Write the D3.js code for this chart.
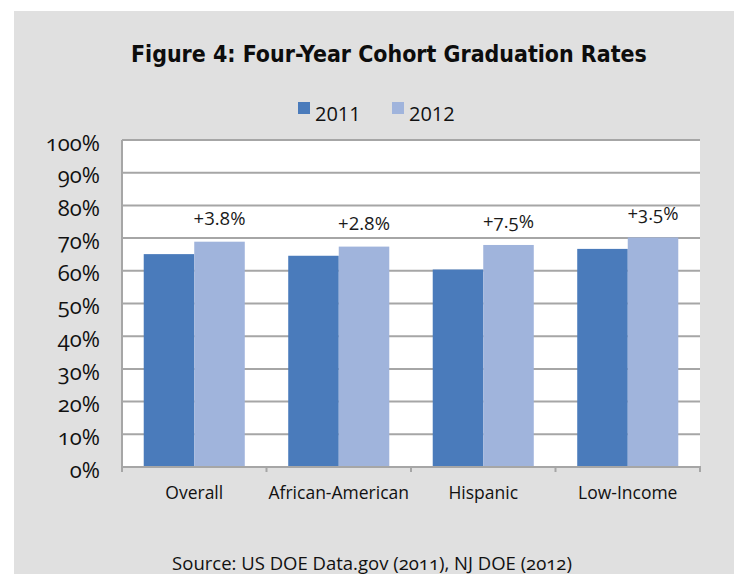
<!DOCTYPE html>
<html>
<head>
<meta charset="utf-8">
<script src="https://cdn.jsdelivr.net/npm/d3@7"></script>
<style>
  html, body { margin: 0; padding: 0; background: #ffffff; }
  svg { display: block; }
  .num { font-variant-numeric: oldstyle-nums; font-feature-settings: "onum" 1; }
</style>
</head>
<body>
<svg id="chart" width="734" height="574"></svg>
<script>
// Graduation rates by group, 2011 vs 2012 (percent)
const categories = ["Overall", "African-American", "Hispanic", "Low-Income"];
const years = ["2011", "2012"];
const rates2011 = [65.1, 64.6, 60.4, 66.7];
const rates2012 = [68.9, 67.4, 67.9, 70.2];
const changeLabels = ["+3.8%", "+2.8%", "+7.5%", "+3.5%"];
const oldstyleChange = [false, false, true, true];
const yTicks = [0, 10, 20, 30, 40, 50, 60, 70, 80, 90, 100];

const colors = { "2011": "#4a7bbb", "2012": "#a0b4dc" };
const labelFont = "'Open Sans', Lato, 'Liberation Sans', sans-serif";

const svg = d3.select("#chart");

// grey panel
svg.append("rect")
  .attr("x", 14).attr("y", 11)
  .attr("width", 734 - 14).attr("height", 574 - 11)
  .attr("fill", "#e0e0e0");

const plot = { left: 122, right: 700, top: 140, bottom: 467 };

const x0 = d3.scaleBand().domain(categories).range([plot.left, plot.right]).paddingInner(0).paddingOuter(0);
const x1 = d3.scaleBand().domain(years).range([0, x0.bandwidth()]).paddingInner(0).paddingOuter(0.43);
const y = d3.scaleLinear().domain([0, 100]).range([plot.bottom, plot.top]);

// white plot area
svg.append("rect")
  .attr("x", plot.left).attr("y", plot.top)
  .attr("width", plot.right - plot.left).attr("height", plot.bottom - plot.top)
  .attr("fill", "#ffffff");

// gridlines
svg.append("g")
  .selectAll("line")
  .data(yTicks.filter(t => t > 0))
  .join("line")
  .attr("x1", plot.left).attr("x2", plot.right)
  .attr("y1", d => y(d)).attr("y2", d => y(d))
  .attr("stroke", "#a6a6a6").attr("stroke-width", 2);

// bars
const rows = categories.map((c, i) => ({ cat: c, values: [
  { year: "2011", v: rates2011[i] },
  { year: "2012", v: rates2012[i] }
], label: changeLabels[i], onum: oldstyleChange[i], top: rates2012[i] }));

const groups = svg.append("g")
  .selectAll("g")
  .data(rows)
  .join("g")
  .attr("transform", d => `translate(${x0(d.cat)},0)`);

groups.selectAll("rect")
  .data(d => d.values)
  .join("rect")
  .attr("x", d => x1(d.year))
  .attr("width", x1.bandwidth())
  .attr("y", d => y(d.v))
  .attr("height", d => y(0) - y(d.v))
  .attr("fill", d => colors[d.year]);

// change labels above 2012 bars
groups.append("text")
  .attr("class", d => d.onum ? "num" : null)
  .attr("x", x1("2012") + x1.bandwidth() / 2)
  .attr("y", d => y(d.top) - 17)
  .attr("text-anchor", "middle")
  .attr("font-family", labelFont)
  .attr("font-size", 18.5)
  .attr("fill", "#1a1a1a")
  .text(d => d.label);

// y axis
const yAxis = d3.axisLeft(y).tickValues(yTicks).tickSize(0).tickPadding(22).tickFormat(d => d + "%");
const yg = svg.append("g").attr("transform", `translate(${plot.left},0)`).call(yAxis);
yg.select(".domain").remove();
yg.selectAll("text")
  .attr("class", "num")
  .attr("font-family", labelFont)
  .attr("font-size", 22)
  .attr("fill", "#111")
  .attr("dy", "0.46em");
svg.append("line")
  .attr("x1", plot.left).attr("x2", plot.left)
  .attr("y1", plot.top).attr("y2", plot.bottom)
  .attr("stroke", "#a6a6a6").attr("stroke-width", 2);

// x axis
const xg = svg.append("g").attr("transform", `translate(0,${plot.bottom})`);
xg.append("line")
  .attr("x1", plot.left - 1).attr("x2", plot.right + 1)
  .attr("stroke", "#a6a6a6").attr("stroke-width", 2);
const bounds = categories.map(c => x0(c)).concat([plot.right]);
xg.selectAll("line.tick")
  .data(bounds)
  .join("line")
  .attr("class", "tick")
  .attr("x1", d => d).attr("x2", d => d)
  .attr("y1", 0).attr("y2", 5)
  .attr("stroke", "#a6a6a6").attr("stroke-width", 2);
xg.selectAll("text")
  .data(categories)
  .join("text")
  .attr("x", d => x0(d) + x0.bandwidth() / 2)
  .attr("y", 32)
  .attr("text-anchor", "middle")
  .attr("font-family", labelFont)
  .attr("font-size", 17.5)
  .attr("fill", "#111")
  .text(d => d);

// title, sized so it spans the same width as the heading block
const title = svg.append("text")
  .attr("class", "num")
  .attr("x", 131).attr("y", 62)
  .attr("font-family", "'Liberation Sans Narrow', 'DejaVu Sans Condensed', 'Liberation Sans', sans-serif")
  .attr("font-weight", "bold")
  .attr("font-size", 27)
  .attr("fill", "#0d0d0d")
  .text("Figure 4: Four-Year Cohort Graduation Rates");
const natural = title.node().getComputedTextLength();
if (natural > 0) title.attr("font-size", Math.min(29, 27 * 516 / natural));

// legend
const legend = svg.append("g");
const legendX = [298, 392];
years.forEach((yr, i) => {
  legend.append("rect")
    .attr("x", legendX[i]).attr("y", 102)
    .attr("width", 12).attr("height", 12)
    .attr("fill", colors[yr]);
  legend.append("text")
    .attr("x", legendX[i] + 17).attr("y", 121)
    .attr("font-family", labelFont)
    .attr("font-size", 20)
    .attr("fill", "#111")
    .text(yr);
});

// source note
svg.append("text")
  .attr("class", "num")
  .attr("x", 372).attr("y", 570)
  .attr("text-anchor", "middle")
  .attr("font-family", labelFont)
  .attr("font-size", 18.5)
  .attr("fill", "#111")
  .text("Source: US DOE Data.gov (2011), NJ DOE (2012)");
</script>
</body>
</html>
